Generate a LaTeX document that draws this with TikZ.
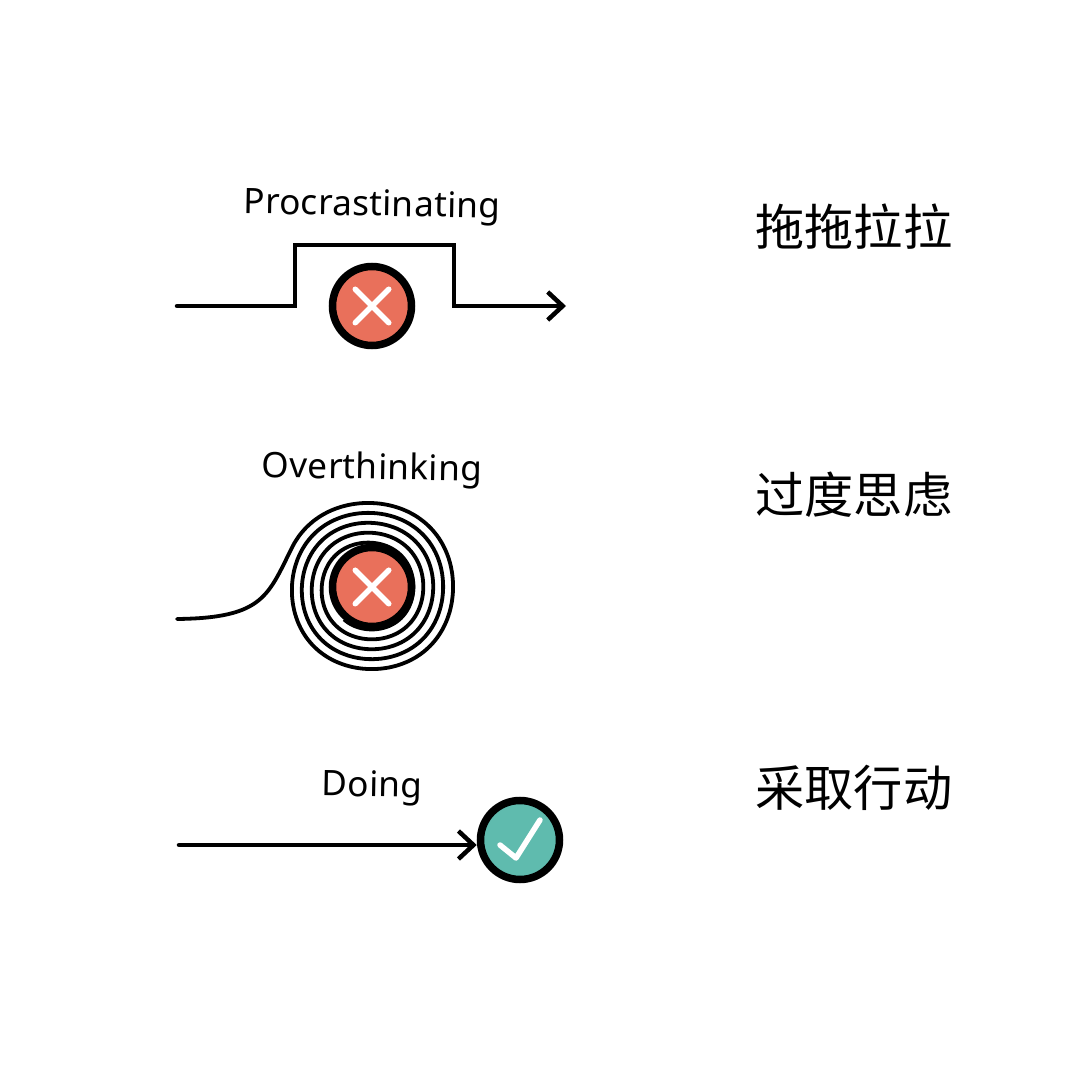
\documentclass[tikz,border=0pt]{standalone}
\usepackage{fontspec}
\setmainfont{Noto Sans}
\newfontfamily\handfont[LetterSpace=1]{Noto Sans}
\newfontfamily\cjk{Noto Sans CJK SC}
\usetikzlibrary{arrows.meta,shapes.misc}
\definecolor{redfill}{HTML}{E9705B}
\definecolor{greenfill}{HTML}{5FBBAE}
\tikzset{
  path/.style={line width=.45mm,line cap=round,line join=miter},
  barb/.style={-{Straight Barb[length=1.5mm,width=2.8mm,line width=.45mm]}},
  ball/.style={draw,circle,line width=.75mm,inner sep=0pt,minimum size=7.9mm},
  crossmark/.style={cross out,draw=white,line width=.55mm,line cap=round,inner sep=0pt,minimum size=2.8mm},
  hand/.style={font=\handfont\fontsize{10}{12}\selectfont,inner sep=0pt},
  zh/.style={font=\cjk\fontsize{14}{14}\selectfont,inner sep=0pt},
}
\begin{document}
\begin{tikzpicture}
\useasboundingbox (0,0) rectangle (10.8,10.9);
\fill[white] (0,0) rectangle (10.8,10.9);

\node[hand,rotate=-1] (t1) at (3.72,8.83) {Procrastinating};
\node[ball,fill=redfill] (c1) at (3.72,7.84) {};
\node[crossmark] (x1) at (c1) {};
\coordinate (a1) at (1.77,7.84);
\coordinate (a2) at (5.66,7.84);
\draw[path,barb] (a1)--(2.95,7.84)--(2.95,8.45)--(4.54,8.45)--(4.54,7.84)--(a2);
\node[zh] (z1) at (8.54,8.63) {拖拖拉拉};

\node[hand,rotate=-1] (t2) at (3.72,6.2) {Overthinking};
\coordinate (a3) at (1.77,4.71);
\coordinate (a4) at (2.936,5.456);
\draw[path,line width=.38mm] (a3) .. controls (2.65,4.72) and (2.68,4.95) .. (a4);
\draw[line width=.38mm,domain=0:1720,samples=260,smooth] plot ({3.7+(.879-.1*\x/360)*(1-.008*cos(4*(150-\x)))*cos(150-\x)},{5.015+(.879-.1*\x/360)*(1-.008*cos(4*(150-\x)))*sin(150-\x)});
\node[ball,fill=redfill] (c2) at (3.72,5.03) {};
\node[crossmark] (x2) at (c2) {};

\node[hand,rotate=-1] (t3) at (3.72,3.02) {Doing};
\node[ball,fill=greenfill] (c3) at (5.2,2.5) {};
\coordinate (a5) at (1.79,2.45);
\draw[path,barb] (a5)--(c3.west|-a5);
\draw[white,line width=.55mm,line cap=round,line join=round] ([shift={(-.2,-.05)}]c3.center)--([shift={(-.04,-.18)}]c3.center)--([shift={(.2,.2)}]c3.center);

\node[zh] (z2) at (8.54,5.95) {过度思虑};
\node[zh] (z3) at (8.54,3.02) {采取行动};
\end{tikzpicture}
\end{document}
